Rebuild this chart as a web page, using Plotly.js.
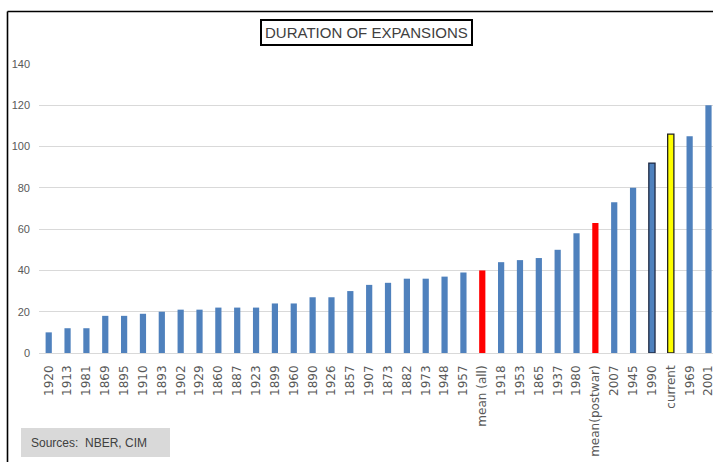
<!DOCTYPE html>
<html>
<head>
<meta charset="utf-8">
<script src="https://cdn.plot.ly/plotly-3.0.1.min.js"></script>
<style>html,body{margin:0;padding:0;background:#fff;}#chart{width:713px;height:462px;}</style>
</head>
<body>
<div id="chart"></div>
<script>
const categories = ["1920","1913","1981","1869","1895","1910","1893","1902","1929","1860","1887","1923","1899","1960","1890","1926","1857","1907","1873","1882","1973","1948","1957","mean (all)","1918","1953","1865","1937","1980","mean(postwar)","2007","1945","1990","current","1969","2001"];
const durations = [10,12,12,18,18,19,20,21,21,22,22,22,24,24,27,27,30,33,34,36,36,37,39,40,44,45,46,50,58,63,73,80,92,106,105,120];
const yTicks = [0,20,40,60,80,100,120,140];

const fills = categories.map(c => c.startsWith("mean") ? "#ff0000" : c === "current" ? "#ffff00" : "#4f81bd");
const lineColors = categories.map((c, i) => c === "current" ? "#222222" : c === "1990" ? "#1f2a44" : fills[i]);
const lineWidths = categories.map(c => (c === "current" || c === "1990") ? 1.3 : 0);

const trace = {
  type: "bar",
  x: categories,
  y: durations,
  width: 0.33,
  marker: {color: fills, line: {color: lineColors, width: lineWidths}},
  hoverinfo: "x+y"
};

const px = v => (v - 39) / 674;
const py = v => (353 - v) / 289;

const layout = {
  width: 713, height: 462,
  margin: {l: 39, r: 0, t: 64, b: 109, pad: 0},
  paper_bgcolor: "#ffffff", plot_bgcolor: "#ffffff",
  showlegend: false,
  xaxis: {
    type: "category",
    range: [-0.515, 35.24],
    tickangle: -90,
    ticks: "",
    showgrid: false,
    showline: false,
    zeroline: false,
    ticklabelstandoff: 9,
    tickfont: {family: "DejaVu Sans", size: 12, color: "#595959"}
  },
  yaxis: {
    range: [0, 140],
    tickvals: yTicks,
    ticktext: yTicks.map(String),
    ticks: "",
    showgrid: true,
    gridcolor: "#d9d9d9",
    gridwidth: 1,
    zeroline: true,
    zerolinecolor: "#d9d9d9",
    zerolinewidth: 1,
    showline: false,
    ticklabelstandoff: 8,
    tickfont: {family: "Liberation Sans", size: 11, color: "#595959"}
  },
  shapes: [
    {type: "line", xref: "paper", yref: "paper", x0: px(7.5), x1: px(7.5), y0: py(11.5), y1: py(480), line: {color: "#000000", width: 1.6}},
    {type: "line", xref: "paper", yref: "paper", x0: px(7.5), x1: px(730), y0: py(11.5), y1: py(11.5), line: {color: "#000000", width: 1.6}}
  ],
  annotations: [
    {xref: "paper", yref: "paper", x: px(366), y: py(33), xanchor: "center", yanchor: "middle",
     text: "DURATION OF EXPANSIONS", showarrow: false,
     font: {family: "Liberation Sans", size: 15, color: "#404040"},
     bordercolor: "#000000", borderwidth: 2, borderpad: 3, bgcolor: "#ffffff"},
    {xref: "paper", yref: "paper", x: px(95.5), y: py(442.5), xanchor: "center", yanchor: "middle",
     text: "\u00a0\u00a0\u00a0Sources:\u00a0\u00a0NBER, CIM", showarrow: false, align: "left",
     width: 149, height: 29,
     font: {family: "Liberation Sans", size: 12, color: "#404040"},
     bgcolor: "#d9d9d9", borderpad: 0, borderwidth: 0}
  ]
};

Plotly.newPlot("chart", [trace], layout, {displayModeBar: false, staticPlot: true});
</script>
</body>
</html>
